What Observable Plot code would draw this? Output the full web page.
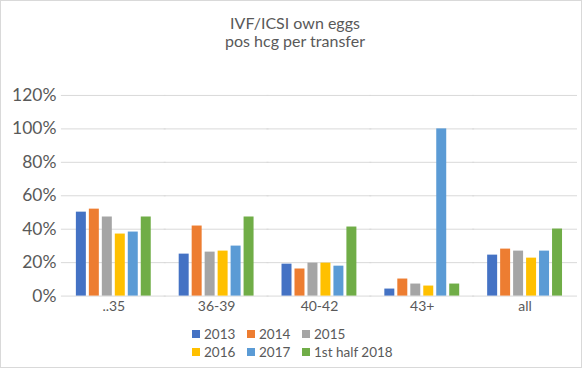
<!DOCTYPE html>
<html>
<head>
<meta charset="utf-8">
<script src="https://cdn.jsdelivr.net/npm/d3@7"></script>
<script src="https://cdn.jsdelivr.net/npm/@observablehq/plot@0.6"></script>
<style>
  html, body { margin: 0; padding: 0; background: #fff; }
  #chart { position: relative; width: 582px; height: 368px; box-sizing: border-box; border: 1px solid #d9d9d9; font-family: Lato, "Open Sans", sans-serif; color: #595959; overflow: hidden; }
  #title { position: absolute; left: 0; top: 13px; width: 100%; text-align: center; font-size: 16px; line-height: 18px; color: #595959; padding-left: 8px; box-sizing: border-box; }
  #plot { position: absolute; left: -1px; top: 59px; }
  #legend { position: absolute; left: 191px; top: 324px; display: grid; grid-template-columns: 55px 55px auto; row-gap: 0; font-size: 13.5px; line-height: 18.3px; }
  .item { display: flex; align-items: center; white-space: nowrap; }
  .sw { width: 8px; height: 8px; margin-right: 4px; flex: none; }
</style>
</head>
<body>
<div id="chart">
  <div id="title">IVF/ICSI own eggs<br>pos hcg per transfer</div>
  <div id="plot"></div>
  <div id="legend"></div>
</div>
<script>
const categories = ["..35", "36-39", "40-42", "43+", "all"];
const seriesNames = ["2013", "2014", "2015", "2016", "2017", "1st half 2018"];
const colors = ["#4472C4", "#ED7D31", "#A5A5A5", "#FFC000", "#5B9BD5", "#70AD47"];
const v2013 = [0.502, 0.251, 0.191, 0.042, 0.245];
const v2014 = [0.520, 0.419, 0.162, 0.102, 0.281];
const v2015 = [0.473, 0.263, 0.197, 0.072, 0.269];
const v2016 = [0.371, 0.269, 0.197, 0.060, 0.227];
const v2017 = [0.383, 0.299, 0.179, 1.000, 0.269];
const v2018 = [0.473, 0.473, 0.413, 0.072, 0.401];
const yTicks = [0, 0.2, 0.4, 0.6, 0.8, 1.0, 1.2];

const seriesValues = [v2013, v2014, v2015, v2016, v2017, v2018];
const data = [];
categories.forEach((c, i) => {
  seriesNames.forEach((s, j) => data.push({category: c, series: s, value: seriesValues[j][i]}));
});

const W = 582, ML = 61, MR = 3, PI = 0.23;
const step = (W - ML - MR) / categories.length;
const halfGap = Math.ceil(PI * step / 2) + 1;
const outer = PI / 2 * step;
const labelRight = 55;

const chart = Plot.plot({
  width: W,
  height: 261,
  marginTop: 35,
  marginBottom: 25,
  marginLeft: ML,
  marginRight: MR,
  style: { fontFamily: "Lato, 'Open Sans', sans-serif", fontSize: "16px", color: "#595959", background: "transparent" },
  fx: { domain: categories, paddingInner: PI, paddingOuter: PI / 2, label: null },
  x: { domain: seriesNames, paddingInner: 0.2, paddingOuter: 0, axis: null },
  y: { domain: [0, 1.2], ticks: yTicks, label: null },
  color: { domain: seriesNames, range: colors },
  marks: [
    Plot.ruleY(yTicks, { y: d => d, stroke: "#d9d9d9", strokeOpacity: 1, strokeWidth: 1, insetLeft: -halfGap, insetRight: -halfGap }),
    Plot.barY(data, { fx: "category", x: "series", y: "value", fill: "series" }),
    Plot.axisY({ ticks: yTicks, tickSize: 0, tickPadding: Math.round(ML + outer - labelRight), tickFormat: d3.format(".0%"), fontSize: 17.5, fill: "#595959", label: null }),
    Plot.axisFx({ anchor: "bottom", tickSize: 0, tickPadding: 5, fontSize: 14, fill: "#595959", label: null })
  ]
});
document.getElementById("plot").appendChild(chart);

const legend = document.getElementById("legend");
seriesNames.forEach((s, j) => {
  const item = document.createElement("div");
  item.className = "item";
  const sw = document.createElement("span");
  sw.className = "sw";
  sw.style.background = colors[j];
  const t = document.createElement("span");
  t.textContent = s;
  item.appendChild(sw);
  item.appendChild(t);
  legend.appendChild(item);
});
</script>
</body>
</html>
